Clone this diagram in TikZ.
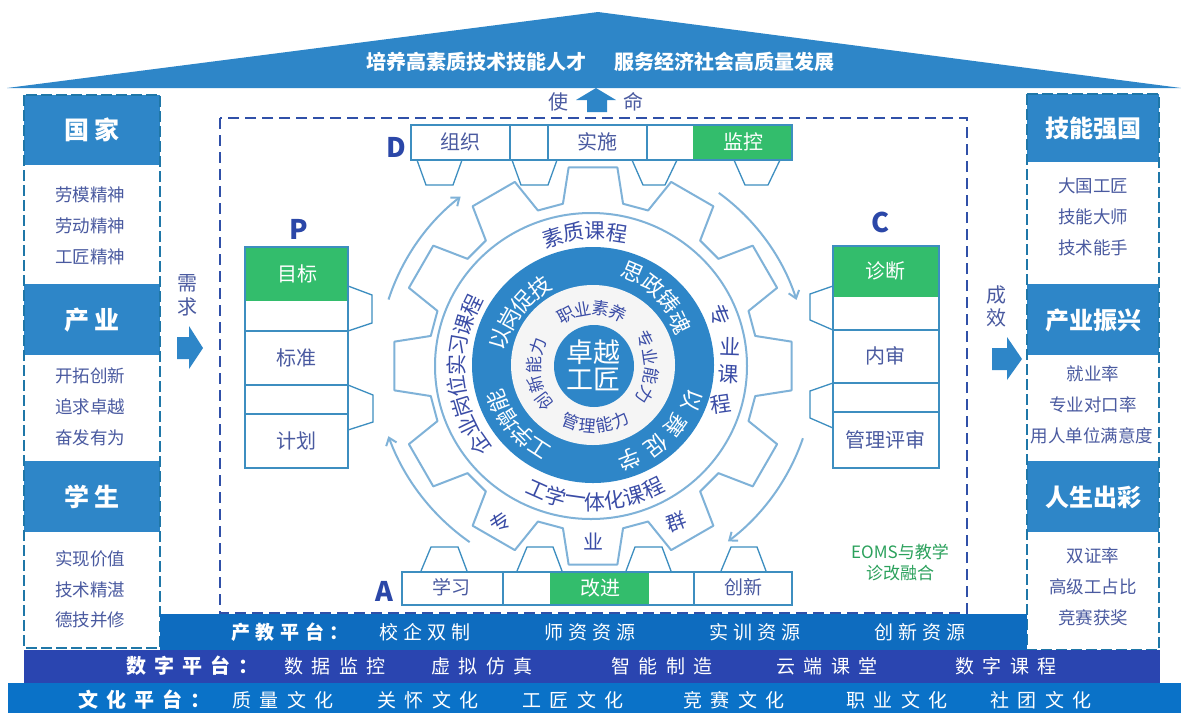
\documentclass[tikz,border=0pt]{standalone}
\usepackage{fontspec}
\setmainfont{Noto Sans CJK SC}
\newfontfamily\lsA[LetterSpace=26]{Noto Sans CJK SC}
\newfontfamily\lsB[LetterSpace=45]{Noto Sans CJK SC}
\usetikzlibrary{arrows.meta}
\definecolor{bluemain}{HTML}{2E86C8}
\definecolor{txt}{HTML}{4A5AA0}
\definecolor{txtd}{HTML}{3A4CA6}
\definecolor{grn}{HTML}{33BD6C}
\definecolor{cellb}{HTML}{3D8EC0}
\definecolor{gearc}{HTML}{7FB2D8}
\definecolor{pand}{HTML}{1F77A8}
\definecolor{dashb}{HTML}{3050A8}
\definecolor{colbarA}{HTML}{0E6CBF}
\definecolor{colbarB}{HTML}{2A45B0}
\definecolor{colbarC}{HTML}{0A72C8}
\definecolor{lab}{HTML}{2B47A8}
\newcommand{\fs}[1]{\fontsize{#1}{#1}\selectfont}
% polar character: angle, radius, rotation, char
\newcommand{\rc}[4]{\node[rotate=#3] at ([shift={(593,-365)}]#1:#2) {#4};}
\tikzset{
  x=1pt,y=1pt,
  every node/.style={inner sep=0pt,outer sep=0pt},
  tb/.style={text=txt,font=\fs{17.5}},
  hd/.style={text=white,font=\fs{24}\bfseries},
  cl/.style={text=txt,font=\fs{20}},
  clw/.style={text=white,font=\fs{20}},
  lbl/.style={text=lab,font=\fs{27}\bfseries},
  cellline/.style={draw=cellb,line width=1.3pt},
  tab/.style={draw=cellb,line width=1.3pt},
  flowarc/.style={draw=gearc,line width=2pt,-{Straight Barb[length=7pt,width=11pt,line width=2pt]}},
  stA/.style={text=white,font=\fs{19}\lsA},
  stB/.style={text=white,font=\fs{19}\lsB},
}
\begin{document}
\begin{tikzpicture}
\useasboundingbox (0,0) rectangle (1181,-713);
\fill[white] (0,0) rectangle (1181,-713);
% roof
\fill[bluemain] (7,-88) -- (598,-12) -- (1181,-88) -- cycle;
\node[text=white,font=\fs{20}\bfseries] (roofa) at (476,-62) {培养高素质技术技能人才};
\node[text=white,font=\fs{20}\bfseries] (roofb) at (724,-62) {服务经济社会高质量发展};
% side panels
\foreach \a/\b in {-95/-165,-284/-355,-461/-532} \fill[bluemain] (24,\a) rectangle (160,\b);
\foreach \a/\b in {-94/-162,-284/-355,-461/-532} \fill[bluemain] (1027,\a) rectangle (1159,\b);
\draw[pand,line width=1.5pt,dash pattern=on 11pt off 4pt] (24,-95) rectangle (160,-648);
\draw[pand,line width=1.5pt,dash pattern=on 11pt off 4pt] (1027,-94) rectangle (1159,-650);
\node[hd,font=\fs{25}\bfseries] (n1) at (92,-130) {国\hspace{5pt}家};
\node[hd,font=\fs{25}\bfseries] (n2) at (92,-320) {产\hspace{5pt}业};
\node[hd,font=\fs{25}\bfseries] (n3) at (92,-497) {学\hspace{5pt}生};
\node[hd] (r1) at (1093,-128) {技能强国};
\node[hd] (r2) at (1093,-320) {产业振兴};
\node[hd] (r3) at (1093,-497) {人生出彩};
\foreach \t/\y in {劳模精神/195,劳动精神/226,工匠精神/257,开拓创新/376,追求卓越/407,奋发有为/438,实现价值/559,技术精湛/590,德技并修/620}
  \node[tb] at (90,-\y) {\t};
\foreach \t/\y in {大国工匠/186,技能大师/217,技术能手/248,就业率/374,专业对口率/405,双证率/556,高级工占比/587,竞赛获奖/618}
  \node[tb] at (1093,-\y) {\t};
\node[tb,font=\fs{17.5}] (rr) at (1092,-436) {用人单位满意度};
% dashed frame
\draw[dashb,line width=1.5pt,dash pattern=on 11pt off 6pt] (220,-118) rectangle (967,-613);
% mission arrow
\node[text=txt,font=\fs{20}] (shi) at (558,-102) {使};
\node[text=txt,font=\fs{20}] (ming) at (633,-102) {命};
\fill[bluemain] (576,-100) -- (596,-88) -- (616,-100) -- (607,-100) -- (607,-112) -- (587,-112) -- (587,-100) -- cycle;
% need / result
\node[text=txt,font=\fs{20}] (xu) at (187,-283) {需};
\node[text=txt,font=\fs{20}] (qiu) at (187,-307) {求};
\fill[bluemain] (177,-337) -- (189,-337) -- (189,-326) -- (203,-348) -- (189,-369) -- (189,-359) -- (177,-359) -- cycle;
\node[text=txt,font=\fs{20}] (cheng) at (996,-295) {成};
\node[text=txt,font=\fs{20}] (xiao) at (996,-318) {效};
\fill[bluemain] (992,-348) -- (1007,-348) -- (1007,-337) -- (1022,-359) -- (1007,-380) -- (1007,-370) -- (992,-370) -- cycle;
% gear
\draw[gearc,line width=2pt,line join=round] ([shift={(593,-366)}]97:200)
  foreach \a in {90,60,30,0,-30,-60,-90,-120,-150,-180,-210,-240} {
    -- ([shift={(593,-366)}]\a+7:200) -- ([shift={(593,-366)}]\a-7:200) -- ([shift={(593,-366)}]\a-10.5:165) -- ([shift={(593,-366)}]\a-19.5:165)
  } -- cycle;
\draw[gearc,line width=2pt] (591,-366) ellipse [x radius=156,y radius=153];
% flow arcs
\draw[flowarc] ([shift={(593,-366)}]162:215) arc (162:128:215);
\draw[flowarc] ([shift={(593,-366)}]54:214) arc (54:18:214);
\draw[flowarc] ([shift={(593,-366)}]-19:222) arc (-19:-53:218);
\draw[flowarc] ([shift={(593,-366)}]-125:215) arc (-125:-160:222);
% rings
\fill[bluemain] (593,-365) ellipse [x radius=121,y radius=118];
\fill[black!4] (593,-365) ellipse [x radius=82,y radius=80];
\fill[bluemain] (594,-366) ellipse [x radius=40,y radius=41];
\node[text=white,font=\fs{27}] (c1) at (593,-352) {卓越};
\node[text=white,font=\fs{27}] (c2) at (593,-379) {工匠};
% outer ring text
\begin{scope}[every node/.append style={text=txtd,font=\fs{21}}]
\rc{107.5}{134}{18}{素}\rc{98.5}{134}{9}{质}\rc{89}{134}{0}{课}\rc{79.5}{134}{-9}{程}
\rc{21.5}{136}{-68}{专}\rc{7.6}{138}{-2}{业}\rc{-4}{136}{-3}{课}\rc{-17}{134}{8}{程}
\rc{246}{137}{-24}{工}\rc{254.3}{137}{-16}{学}\rc{262.6}{137}{-8}{一}\rc{270.9}{137}{1}{体}\rc{279.2}{137}{9}{化}\rc{287.5}{137}{17}{课}\rc{296}{137}{26}{程}
\rc{215}{139}{125}{企}\rc{206.3}{139}{116}{业}\rc{197.6}{138}{107}{岗}\rc{188.9}{138}{99}{位}\rc{180.2}{137}{90}{实}\rc{171.5}{136}{81}{习}\rc{162.8}{135}{73}{课}\rc{154}{135}{64}{程}
\rc{118}{57}{28}{\fs{17}职}\rc{100}{57}{10}{\fs{17}业}\rc{82}{57}{-8}{\fs{17}素}\rc{64}{57}{-26}{\fs{17}养}
\rc{27}{58}{-63}{\fs{17}专}\rc{8}{58}{-82}{\fs{17}业}\rc{-11}{59}{-101}{\fs{17}能}\rc{-30}{60}{-120}{\fs{17}力}
\rc{249}{61}{-21}{\fs{17}管}\rc{265}{61}{-5}{\fs{17}理}\rc{281}{61}{11}{\fs{17}能}\rc{296.5}{61}{26}{\fs{17}力}
\rc{217}{61}{127}{\fs{17}创}\rc{198.5}{60}{108}{\fs{17}新}\rc{180}{59}{90}{\fs{17}能}\rc{161.6}{58}{72}{\fs{17}力}
\end{scope}
\begin{scope}[every node/.append style={text=white,font=\fs{22}}]
\rc{164.4}{97}{74}{以}\rc{151}{96}{61}{岗}\rc{138}{95}{48}{促}\rc{124.5}{94}{35}{技}
\rc{66.6}{101}{-23}{思}\rc{53}{100}{-37}{政}\rc{39.5}{99}{-50}{铸}\rc{26}{97}{-64}{魂}
\rc{-20}{105}{-110}{以}\rc{-36}{103}{-126}{赛}\rc{-52}{102}{-142}{促}\rc{-68.7}{101}{-159}{学}
\rc{237}{99}{147}{工}\rc{225}{100}{135}{学}\rc{213}{101}{123}{增}\rc{201}{102}{111}{能}
\end{scope}
\node[text=txtd,font=\fs{20},rotate=35] (e1) at (500,-523) {专};
\node[text=txtd,font=\fs{20}] (e2) at (593,-541) {业};
\node[text=txtd,font=\fs{20},rotate=20] (e3) at (676,-522) {群};
% D bar
\fill[grn] (693,-125) rectangle (792,-160);
\draw[cellline] (411,-125) rectangle (792,-160);
\draw[cellline] (510,-125) -- (510,-160) (548,-125) -- (548,-160) (647,-125) -- (647,-160);
\foreach \a/\b/\c/\d in {417/426/453/462,512/521/548/557,632/643/665/677,734/745/768/780}
  \draw[tab] (\a,-160) -- (\b,-185) -- (\c,-185) -- (\d,-160);
\node[cl] (d1) at (460,-142) {组织};
\node[cl] (d2) at (597,-142) {实施};
\node[clw] (d3) at (743,-142) {监控};
\node[lbl] (D) at (396,-147) {D};
% A bar
\fill[grn] (550,-572) rectangle (649,-605);
\draw[cellline] (402,-572) rectangle (792,-605);
\draw[cellline] (503,-572) -- (503,-605) (694,-572) -- (694,-605);
\foreach \a/\b/\c/\d in {421/431/458/467,517/527/553/562,626/635/662/671,721/731/757/766}
  \draw[tab] (\a,-571) -- (\b,-547) -- (\c,-547) -- (\d,-571);
\node[cl,font=\fs{19}] (a1) at (451,-587) {学习};
\node[clw] (a2) at (600,-588) {改进};
\node[cl,font=\fs{19}] (a3) at (743,-587) {创新};
\node[lbl] (A) at (384,-591) {A};
% P column
\fill[grn] (245,-247) rectangle (348,-301);
\draw[cellline] (245,-247) rectangle (348,-468);
\draw[cellline] (245,-331) -- (348,-331) (245,-385) -- (348,-385) (245,-414) -- (348,-414);
\draw[tab] (348,-286) -- (372,-295) -- (372,-323) -- (348,-331);
\draw[tab] (348,-385) -- (373,-395) -- (373,-422) -- (348,-430);
\node[clw] (p1) at (297,-274) {目标};
\node[cl] (p2) at (296,-358) {标准};
\node[cl] (p3) at (296,-441) {计划};
\node[lbl] (P) at (299,-229) {P};
% C column
\fill[grn] (833,-246) rectangle (939,-297);
\draw[cellline] (833,-246) rectangle (939,-468);
\draw[cellline] (833,-330) -- (939,-330) (833,-383) -- (939,-383) (833,-412) -- (939,-412);
\draw[tab] (833,-286) -- (810,-294) -- (810,-320) -- (833,-330);
\draw[tab] (833,-383) -- (810,-391) -- (810,-418) -- (833,-428);
\node[clw] (c3) at (885,-271) {诊断};
\node[cl] (c4) at (885,-356) {内审};
\node[cl] (c5) at (885,-440) {管理评审};
\node[lbl] (C) at (880,-222) {C};
% note
\node[text=grn!85!black,font=\fs{17}] (note1) at (900,-552) {EOMS与教学};
\node[text=grn!85!black,font=\fs{17}] (note2) at (900,-573) {诊改融合};
% bars
\fill[colbarA] (160,-614) rectangle (1027,-650);
\fill[colbarB] (24,-650) rectangle (1160,-683);
\fill[colbarC] (8,-683) rectangle (1181,-713);
\node[text=white,font=\fs{19}\bfseries\addfontfeature{LetterSpace=30}] (ba) at (290,-632) {产教平台：};
\foreach \t/\x in {校企双制/425,师资资源/590,实训资源/755,创新资源/920}
  \node[stA] at (\x,-632) {\t};
\node[text=white,font=\fs{20}\bfseries\addfontfeature{LetterSpace=40}] (bb) at (192,-666) {数字平台：};
\foreach \t/\x in {数据监控/335,虚拟仿真/482,智能制造/662,云端课堂/827,数字课程/1006}
  \node[stB] at (\x,-666) {\t};
\node[text=white,font=\fs{20}\bfseries\addfontfeature{LetterSpace=40}] (bc) at (144,-700) {文化平台：};
\foreach \t/\x in {质量文化/283,关怀文化/428,工匠文化/573,竞赛文化/734,职业文化/897,社团文化/1041}
  \node[stB] at (\x,-700) {\t};
\end{tikzpicture}
\end{document}
